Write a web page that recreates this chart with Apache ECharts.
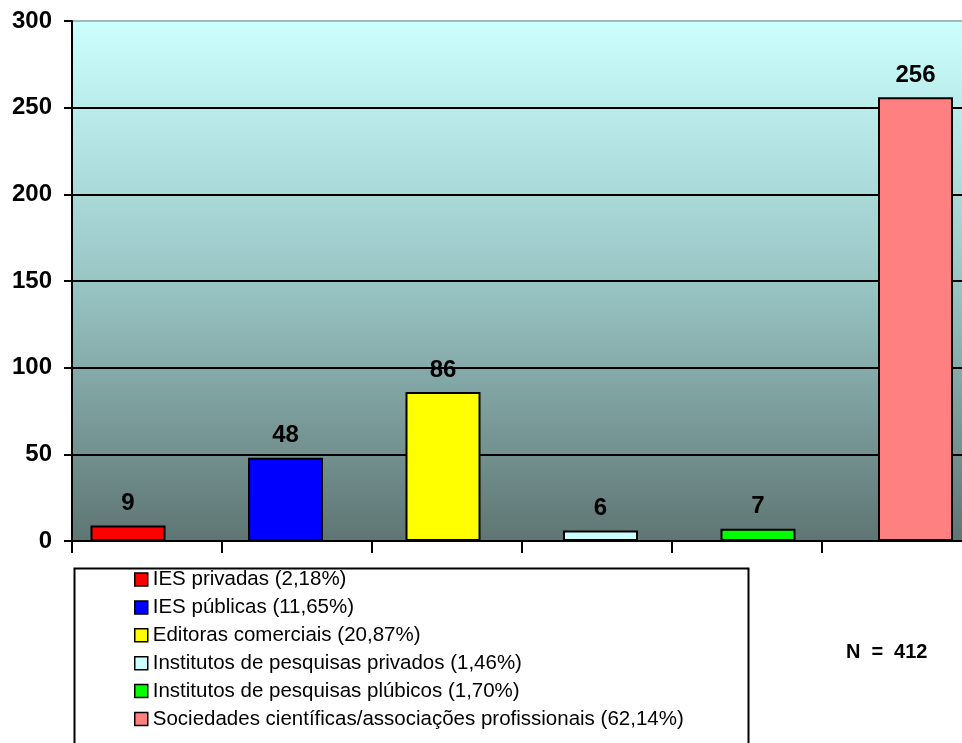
<!DOCTYPE html>
<html>
<head>
<meta charset="utf-8">
<script src="https://cdn.jsdelivr.net/npm/echarts@6/dist/echarts.min.js"></script>
<style>
  html, body { margin: 0; padding: 0; background: #fff; overflow: hidden; }
  /* canvas is a little wider than the window so the plot runs past its right edge */
  #chart { width: 1000px; height: 743px; }
</style>
</head>
<body>
<div id="chart"></div>
<script>
// Origem das revistas: número de títulos por tipo de instituição
const categories = [
  'IES privadas',
  'IES públicas',
  'Editoras comerciais',
  'Institutos de pesquisas privados',
  'Institutos de pesquisas plúbicos',
  'Sociedades científicas/associações profissionais'
];
const values = [9, 48, 86, 6, 7, 256];
const shares = ['2,18%', '11,65%', '20,87%', '1,46%', '1,70%', '62,14%'];
const yTicks = [0, 50, 100, 150, 200, 250, 300];
const totalN = 412;

const palette = ['#FF0000', '#0000FF', '#FFFF00', '#CCFFFF', '#00FF00', '#FF8080'];
const FONT = '"Liberation Sans", Arial, sans-serif';
const PLOT_TOP = 21, PLOT_BOTTOM = 202;

// One series per category so each gets its own legend entry;
// bars live in their own (slightly wider) grid, drawn over the framed plot
const series = categories.map((name, i) => ({
  name: name + ' (' + shares[i] + ')',
  type: 'bar',
  xAxisIndex: 1,
  yAxisIndex: 1,
  stack: 'total',
  barWidth: 75,
  data: values.map((v, j) => (j === i ? v : '-')),
  itemStyle: { color: palette[i], borderColor: '#000', borderWidth: 2 },
  label: {
    show: true,
    position: 'top',
    distance: 10,
    color: '#000',
    fontFamily: FONT,
    fontWeight: 'bold',
    fontSize: 24
  }
}));

const yRange = {
  type: 'value',
  min: yTicks[0],
  max: yTicks[yTicks.length - 1],
  interval: yTicks[1] - yTicks[0]
};

const chart = echarts.init(document.getElementById('chart'), null, { renderer: 'canvas' });
chart.setOption({
  animation: false,
  backgroundColor: '#fff',
  grid: [
    {
      left: 72, width: 900, top: PLOT_TOP, bottom: PLOT_BOTTOM,
      show: true,
      borderColor: '#9FB8B8',
      borderWidth: 2,
      backgroundColor: {
        type: 'linear', x: 0, y: 0, x2: 0, y2: 1,
        colorStops: [
          { offset: 0, color: '#CCFFFF' },
          { offset: 0.5, color: '#99C6C5' },
          { offset: 1, color: '#5E7573' }
        ]
      }
    },
    { left: 49.25, width: 945, top: PLOT_TOP, bottom: PLOT_BOTTOM }
  ],
  xAxis: [
    {
      gridIndex: 0,
      type: 'category',
      data: categories,
      axisLine: { lineStyle: { color: '#000', width: 2 } },
      axisTick: { show: true, interval: 0, length: 12, lineStyle: { color: '#000', width: 2 } },
      axisLabel: { show: false, interval: 0 },
      splitLine: { show: false }
    },
    {
      gridIndex: 1,
      type: 'category',
      data: categories,
      show: false
    }
  ],
  yAxis: [
    Object.assign({}, yRange, {
      gridIndex: 0,
      axisLine: { show: true, lineStyle: { color: '#000', width: 2 } },
      axisTick: { show: true, length: 8, lineStyle: { color: '#000', width: 2 } },
      axisLabel: {
        margin: 20,
        color: '#000',
        fontFamily: FONT,
        fontWeight: 'bold',
        fontSize: 24
      },
      splitLine: { show: true, showMaxLine: false, lineStyle: { color: '#000', width: 2 } }
    }),
    Object.assign({}, yRange, { gridIndex: 1, show: false, splitLine: { show: false } })
  ],
  legend: {
    orient: 'vertical',
    left: 134,
    top: 569,
    padding: 0,
    itemWidth: 13,
    itemHeight: 13,
    itemGap: 6.9,
    icon: 'rect',
    selectedMode: false,
    itemStyle: { borderColor: '#000', borderWidth: 1.5 },
    textStyle: { color: '#000', fontFamily: FONT, fontSize: 20.5, lineHeight: 20 }
  },
  graphic: [
    {
      type: 'rect',
      left: 72, top: 566,
      shape: { width: 674, height: 200 },
      style: { fill: 'none', stroke: '#000', lineWidth: 2 },
      z: 0
    },
    {
      type: 'text',
      left: 846, top: 642,
      style: {
        text: '{t|N}{eq|=}{t|' + totalN + '}',
        fill: '#000',
        font: 'bold 20px ' + FONT,
        rich: {
          t: { fontFamily: FONT, fontWeight: 'bold', fontSize: 20, fill: '#000' },
          eq: { fontFamily: FONT, fontWeight: 'bold', fontSize: 20, fill: '#000', padding: [0, 11, 0, 11] }
        }
      }
    }
  ],
  series: series
});
</script>
</body>
</html>
